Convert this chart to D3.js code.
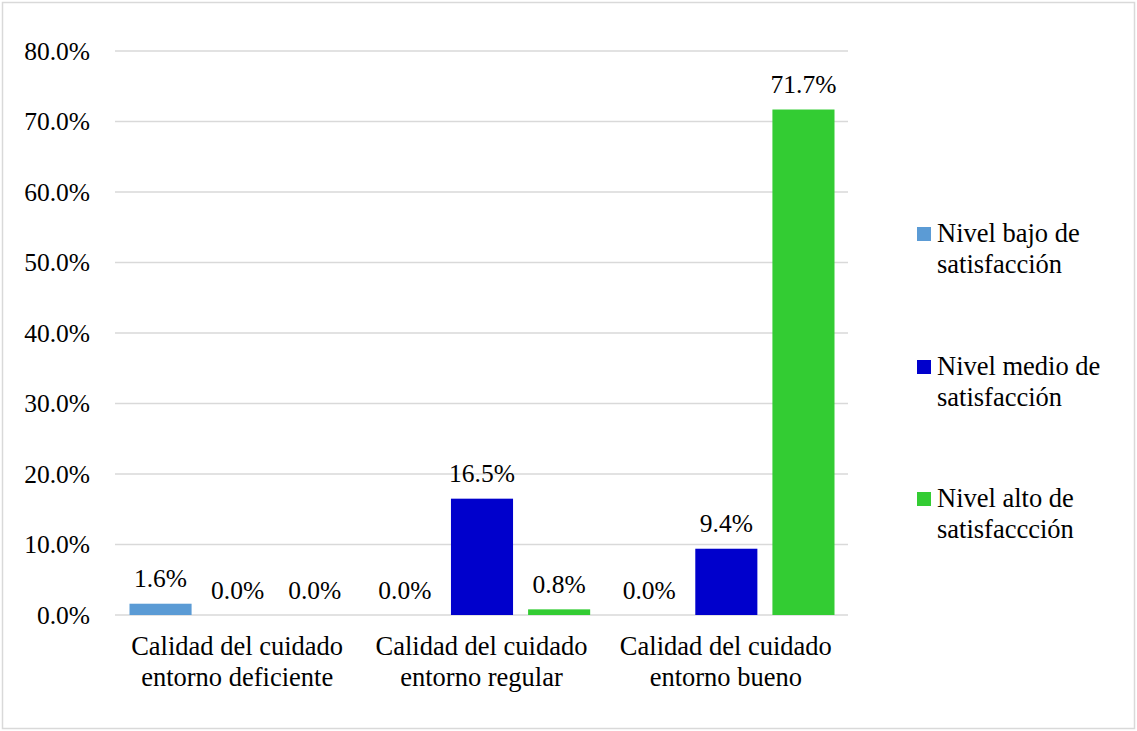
<!DOCTYPE html>
<html>
<head>
<meta charset="utf-8">
<script src="https://cdn.jsdelivr.net/npm/d3@7"></script>
</head>
<body style="margin:0">
<div id="chart"></div>
<script>
// data
const categories = [["Calidad del cuidado", "entorno deficiente"],
                    ["Calidad del cuidado", "entorno regular"],
                    ["Calidad del cuidado", "entorno bueno"]];
const seriesNames = [["Nivel bajo de", "satisfacción"],
                     ["Nivel medio de", "satisfacción"],
                     ["Nivel alto de", "satisfaccción"]];
const bajo = [1.6, 0.0, 0.0];
const medio = [0.0, 16.5, 9.4];
const alto = [0.0, 0.8, 71.7];
const yTicks = [0, 10, 20, 30, 40, 50, 60, 70, 80];
const colors = ["#5B9BD5", "#0000CC", "#33CC33"];

const FONT = "Liberation Serif";
const FS = 25.5;   // numbers
const FS2 = 26.5;  // words

const W = 1137, H = 731;
const m = {top: 51, left: 115, right: 289, bottom: 116};
const w = W - m.left - m.right, h = H - m.top - m.bottom;

const svg = d3.select("#chart").append("svg")
    .attr("width", W).attr("height", H);

// outer border
svg.append("rect")
    .attr("x", 2.5).attr("y", 2.5)
    .attr("width", W - 5).attr("height", H - 5)
    .attr("fill", "#fff").attr("stroke", "#d9d9d9").attr("stroke-width", 1.5);

const g = svg.append("g").attr("transform", `translate(${m.left},${m.top})`);

const y = d3.scaleLinear().domain([0, 80]).range([h, 0]);
const x0 = d3.scaleBand().domain(d3.range(categories.length)).range([0, w]).padding(0);
const x1 = d3.scaleBand().domain(d3.range(3))
    .range([14.5, x0.bandwidth() - 13.5]).paddingInner(0.195).paddingOuter(0);

// gridlines
g.selectAll(".grid").data(yTicks).join("line")
    .attr("x1", 0).attr("x2", w)
    .attr("y1", d => y(d)).attr("y2", d => y(d))
    .attr("stroke", "#d9d9d9").attr("stroke-width", 1.3);

// y axis labels
g.selectAll(".ytick").data(yTicks).join("text")
    .attr("x", -25).attr("y", d => y(d) + 8.5)
    .attr("text-anchor", "end")
    .attr("font-family", FONT).attr("font-size", FS)
    .text(d => d.toFixed(1) + "%");

const series = [bajo, medio, alto];
const rows = [];
categories.forEach((c, i) => series.forEach((s, j) => rows.push({cat: i, ser: j, v: s[i]})));

// bars
g.selectAll(".bar").data(rows).join("rect")
    .attr("x", d => x0(d.cat) + x1(d.ser))
    .attr("y", d => y(d.v))
    .attr("width", x1.bandwidth())
    .attr("height", d => h - y(d.v))
    .attr("fill", d => colors[d.ser]);

// value labels
g.selectAll(".lbl").data(rows).join("text")
    .attr("x", d => x0(d.cat) + x1(d.ser) + x1.bandwidth() / 2)
    .attr("y", d => y(d.v) - 16.5)
    .attr("text-anchor", "middle")
    .attr("font-family", FONT).attr("font-size", FS)
    .text(d => d.v.toFixed(1) + "%");

// category labels, two lines each
categories.forEach((c, i) => {
  c.forEach((line, k) => {
    g.append("text")
      .attr("x", x0(i) + x0.bandwidth() / 2)
      .attr("y", h + 39.5 + k * 31)
      .attr("text-anchor", "middle")
      .attr("font-family", FONT).attr("font-size", FS2)
      .text(line);
  });
});

// legend
const leg = svg.append("g").attr("transform", "translate(917,0)");
const legY = [242, 375, 507];
seriesNames.forEach((n, i) => {
  leg.append("rect")
    .attr("x", 0).attr("y", legY[i] - 15)
    .attr("width", 14).attr("height", 14)
    .attr("fill", colors[i]);
  n.forEach((line, k) => {
    leg.append("text")
      .attr("x", 20).attr("y", legY[i] + k * 31)
      .attr("font-family", FONT).attr("font-size", FS2)
      .text(line);
  });
});
</script>
</body>
</html>
